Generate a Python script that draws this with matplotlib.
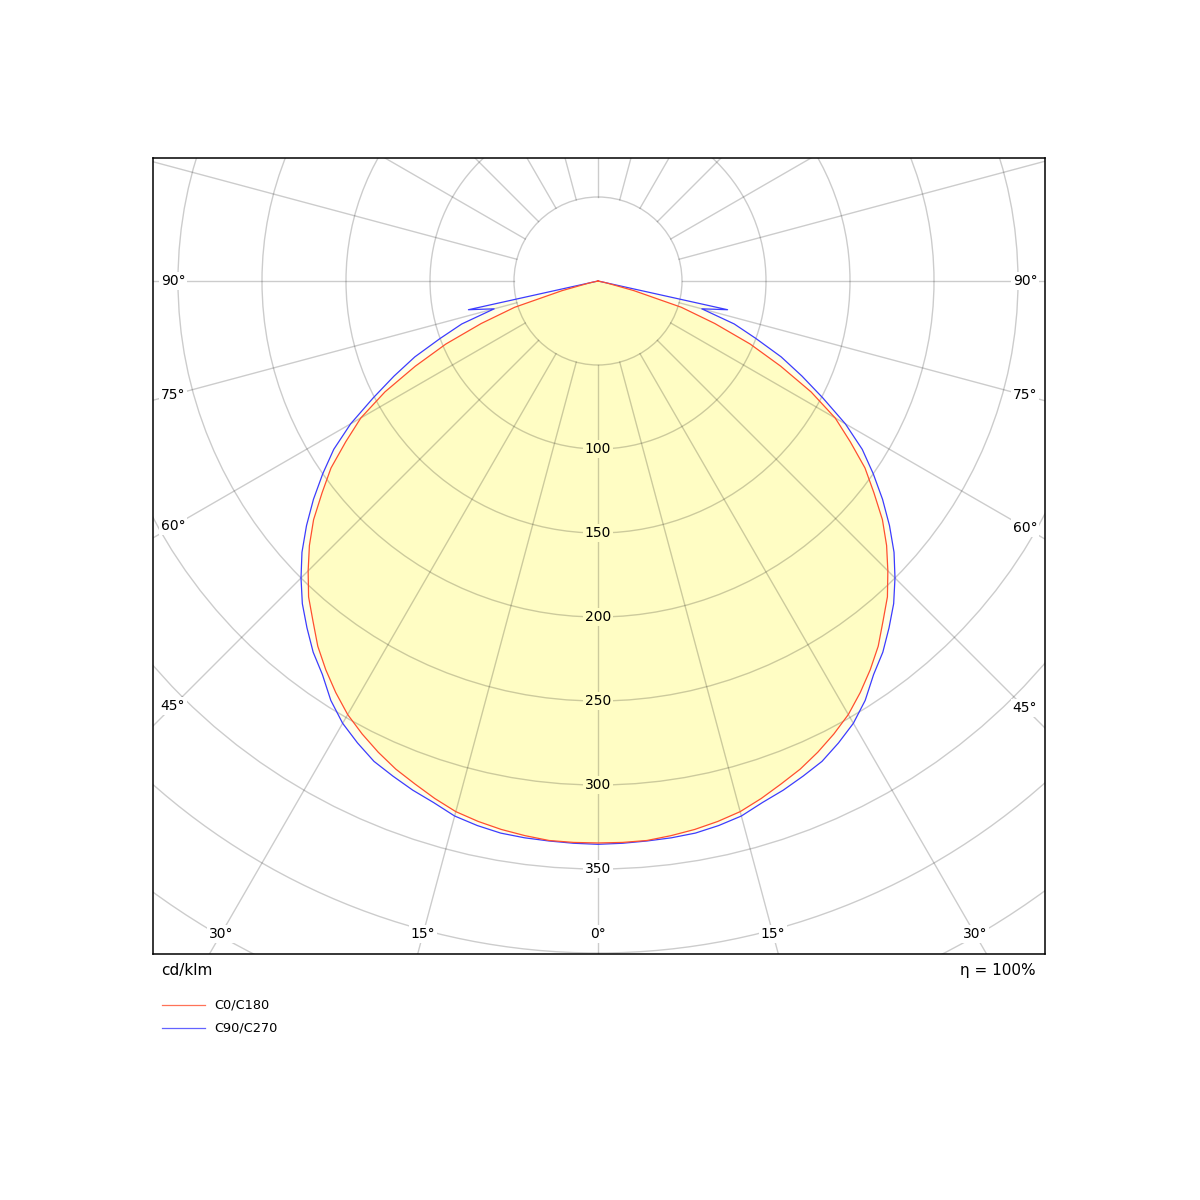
import numpy as np
import matplotlib
matplotlib.use('Agg')
from matplotlib import pyplot as plt
from matplotlib.patches import Circle
from matplotlib.lines import Line2D

plt.rc('font', family='DejaVu Sans', size=10)

# luminous intensity distribution, cd/klm, gamma in degrees (mirrored for the other half plane)
gamma = [0, 2.5, 5, 7.5, 10, 12.5, 15, 17.5, 20, 22.5, 25, 27.5, 30, 32.5, 35, 37.5, 40, 42.5,
         45, 47.5, 50, 52.5, 55, 57.5, 60, 62.5, 65, 67.5, 70, 72.5, 75, 77.5, 80, 85, 90]
c0_c180 = [334.5, 334.5, 334.3, 333, 331.5, 329.5, 327, 323, 318.6, 314.5, 309.5, 304, 298, 290.5,
           282.5, 274, 264, 255, 244, 233, 221, 207, 194, 178, 163, 143, 120, 98, 74, 52,
           22, 5, 0, 0, 0]
c90_c270 = [335.3, 335, 334.6, 334.3, 333.7, 332, 329.7, 325.5, 322.5, 319, 315.5, 310, 304, 296,
            286, 278.5, 269.5, 260.5, 250, 239, 226.5, 213.5, 200, 186.5, 170, 151, 134, 118,
            100, 85, 64, 79, 0, 0, 0]

ring_values = [100, 150, 200, 250, 300, 350]
angle_labels = [0, 15, 30, 45, 60, 75, 90]
series_names = ['C0/C180', 'C90/C270']

red = '#ff4f2e'
blue = '#3c3cff'
fill_main = '#fffdc4'
fill_light = '#ffffe6'

px = 1.68  # pixels per cd/klm
xmin, xmax = -445 / px, 447 / px
ymin, ymax = -673 / px, 123 / px


def to_xy(gam, val):
    g = np.radians(np.asarray(gam, dtype=float))
    v = np.asarray(val, dtype=float)
    # left half goes from 90 down to 0, right half from 0 up to 90
    x = np.concatenate([-(v * np.sin(g))[::-1], (v * np.sin(g))[1:]])
    y = np.concatenate([(-v * np.cos(g))[::-1], (-v * np.cos(g))[1:]])
    return x, y


fig = plt.figure(figsize=(12, 12), dpi=100)
ax = fig.add_axes([153 / 1200, 1 - 954 / 1200, 892 / 1200, 796 / 1200])
ax.set_xlim(xmin, xmax)
ax.set_ylim(ymin, ymax)
ax.set_xticks([])
ax.set_yticks([])
for sp in ax.spines.values():
    sp.set_linewidth(1.1)
    sp.set_zorder(10)

xr, yr = to_xy(gamma, c0_c180)
xb, yb = to_xy(gamma, c90_c270)

ax.fill(xb, yb, color=fill_light, lw=0, zorder=1)
ax.fill(xr, yr, color=fill_main, lw=0, zorder=2)

# grid: rings every 50 and rays every 15 degrees
for r in range(50, 550, 50):
    ax.add_patch(Circle((0, 0), r, fill=False, ec='black', alpha=0.2, lw=1.0, zorder=3))
for a in range(0, 360, 15):
    t = np.radians(a)
    ax.plot([50 * np.sin(t), 550 * np.sin(t)], [-50 * np.cos(t), -550 * np.cos(t)],
            color='black', alpha=0.2, lw=1.0, zorder=3)

ax.plot(xr, yr, color=red, lw=0.9, zorder=5)
ax.plot(xb, yb, color=blue, lw=0.9, zorder=4)

# value labels along the 0 degree ray
for v in ring_values:
    bg = fill_main if v < c0_c180[0] else 'white'
    ax.text(0, -v, str(v), ha='center', va='center', fontsize=10, zorder=8,
            bbox=dict(facecolor=bg, edgecolor='none', pad=1.5))

# angle labels where the rays meet the frame, pulled 20 px inside
d = 20 / px
for a in angle_labels:
    t = np.radians(a)
    for side in (-1, 1):
        if a == 0 and side == 1:
            continue
        s, c = np.sin(t), np.cos(t)
        cands = []
        if s > 1e-9:
            cands.append(((xmax - d) if side > 0 else (-xmin - d)) / s)
        if c > 1e-9:
            cands.append((-ymin - d) / c)
        k = min(cands)
        ax.text(side * k * s, -k * c, '%d°' % a, ha='center', va='center', fontsize=10, zorder=8,
                bbox=dict(facecolor='white', edgecolor='none', pad=1.5))

fig.text(161 / 1200, 1 - 970 / 1200, 'cd/klm', ha='left', va='center', fontsize=11)
fig.text(1036 / 1200, 1 - 970 / 1200, 'η = 100%', ha='right', va='center', fontsize=11)

for i, (name, col) in enumerate(zip(series_names, [red, blue])):
    yy = 1 - (1005 + 23 * i) / 1200
    fig.add_artist(Line2D([162 / 1200, 205 / 1200], [yy, yy], color=col, lw=0.9, alpha=0.8))
    fig.text(214 / 1200, yy, name, ha='left', va='center', fontsize=9.3)

fig.savefig('out.png', dpi=100)
